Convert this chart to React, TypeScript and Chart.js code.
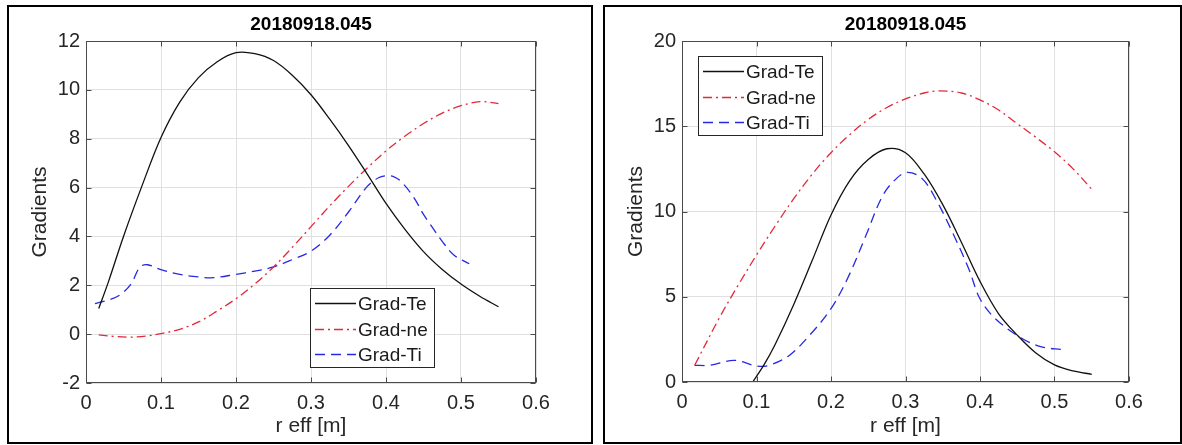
import React, { useEffect, useRef } from 'react';
import { Chart, registerables } from 'chart.js';

Chart.register(...registerables);

// ---------- text ----------
const TITLE = '20180918.045';
const X_LABEL = 'r eff [m]';
const Y_LABEL = 'Gradients';
const SERIES_NAMES = ['Grad-Te', 'Grad-ne', 'Grad-Ti'];

// ---------- left panel data ----------
const L_TE_X = [0.017, 0.03, 0.05, 0.075, 0.1, 0.125, 0.15, 0.175, 0.2, 0.225, 0.25, 0.275, 0.3, 0.325, 0.35, 0.375, 0.4, 0.425, 0.45, 0.475, 0.5, 0.525, 0.55];
const L_TE_Y = [1.05, 2.15, 4.0, 6.1, 8.05, 9.5, 10.5, 11.15, 11.52, 11.48, 11.2, 10.6, 9.8, 8.8, 7.72, 6.55, 5.35, 4.3, 3.38, 2.65, 2.05, 1.55, 1.12];

const L_NE_X = [0.017, 0.04, 0.06, 0.08, 0.1, 0.125, 0.15, 0.175, 0.2, 0.225, 0.25, 0.275, 0.3, 0.325, 0.35, 0.375, 0.4, 0.425, 0.45, 0.475, 0.5, 0.525, 0.55];
const L_NE_Y = [-0.03, -0.1, -0.12, -0.08, 0.02, 0.2, 0.5, 0.95, 1.45, 2.05, 2.75, 3.55, 4.4, 5.25, 6.05, 6.8, 7.5, 8.1, 8.62, 9.05, 9.35, 9.52, 9.44];

const L_TI_X = [0.012, 0.03, 0.045, 0.06, 0.072, 0.082, 0.1, 0.125, 0.15, 0.17, 0.2, 0.225, 0.25, 0.275, 0.3, 0.325, 0.35, 0.375, 0.39, 0.4, 0.41, 0.42, 0.437, 0.45, 0.46, 0.475, 0.49, 0.511];
const L_TI_Y = [1.25, 1.4, 1.6, 2.05, 2.75, 2.84, 2.64, 2.45, 2.34, 2.31, 2.45, 2.58, 2.75, 3.05, 3.4, 4.05, 5.0, 6.05, 6.4, 6.48, 6.45, 6.25, 5.6, 4.9, 4.45, 3.8, 3.25, 2.88];

// ---------- right panel data ----------
const R_TE_X = [0.095, 0.11, 0.125, 0.15, 0.175, 0.2, 0.225, 0.25, 0.275, 0.3, 0.325, 0.35, 0.375, 0.4, 0.425, 0.45, 0.475, 0.5, 0.525, 0.55];
const R_TE_Y = [0, 1.0, 2.2, 4.55, 7.15, 9.8, 11.8, 13.05, 13.68, 13.45, 12.2, 10.4, 8.2, 5.9, 4.0, 2.75, 1.7, 1.0, 0.65, 0.45];

const R_NE_X = [0.017, 0.05, 0.075, 0.1, 0.125, 0.15, 0.175, 0.2, 0.225, 0.25, 0.275, 0.3, 0.325, 0.345, 0.375, 0.4, 0.425, 0.45, 0.475, 0.5, 0.525, 0.55];
const R_NE_Y = [0.98, 3.75, 5.65, 7.45, 9.15, 10.75, 12.2, 13.45, 14.5, 15.4, 16.1, 16.6, 16.95, 17.08, 16.95, 16.55, 15.95, 15.15, 14.35, 13.5, 12.5, 11.3];

const R_TI_X = [0.017, 0.037, 0.07, 0.1, 0.117, 0.144, 0.171, 0.2, 0.224, 0.247, 0.269, 0.287, 0.303, 0.323, 0.341, 0.363, 0.385, 0.4, 0.421, 0.457, 0.484, 0.51];
const R_TI_Y = [0.98, 0.98, 1.27, 0.94, 0.98, 1.56, 2.73, 4.3, 6.24, 8.6, 10.9, 11.9, 12.3, 11.9, 10.7, 8.78, 6.63, 4.88, 3.7, 2.54, 2.05, 1.91];

// ---------- axes ----------
const X_MIN = 0, X_MAX = 0.6, X_STEP = 0.1;
const L_Y_MIN = -2, L_Y_MAX = 12, L_Y_STEP = 2;
const R_Y_MIN = 0, R_Y_MAX = 20, R_Y_STEP = 5;

// ---------- styles ----------
const FONT = '"Liberation Sans", Arial, Helvetica, sans-serif';
const AXIS_COLOR = '#262626';
const STYLES = [
  { color: '#111111', dash: [] as number[] },
  { color: 'rgb(228,40,55)', dash: [9, 4, 2, 4] },
  { color: 'rgb(40,40,228)', dash: [10, 6] },
];

const zip = (xs: number[], ys: number[]) => xs.map((x, i) => ({ x, y: ys[i] }));

const framePlugin = {
  id: 'matlabFrame',
  afterDatasetsDraw(chart: any) {
    const { ctx, chartArea: a, scales } = chart;
    const L = Math.round(a.left) + 0.5;
    const R = Math.round(a.right) - 0.5;
    const T = Math.round(a.top) + 0.5;
    const B = Math.round(a.bottom) - 0.5;
    ctx.save();
    ctx.strokeStyle = '#4a4a4a';
    ctx.lineWidth = 1;
    ctx.setLineDash([]);
    ctx.strokeRect(L, T, R - L, B - T);
    const len = 5;
    ctx.beginPath();
    scales.x.ticks.forEach((t: any) => {
      const px = Math.round(scales.x.getPixelForValue(t.value)) + 0.5;
      ctx.moveTo(px, B); ctx.lineTo(px, B - len);
      ctx.moveTo(px, T); ctx.lineTo(px, T + len);
    });
    scales.y.ticks.forEach((t: any) => {
      const py = Math.round(scales.y.getPixelForValue(t.value)) + 0.5;
      ctx.moveTo(L, py); ctx.lineTo(L + len, py);
      ctx.moveTo(R, py); ctx.lineTo(R - len, py);
    });
    ctx.stroke();
    ctx.restore();
  },
  afterDraw(chart: any, _args: any, opts: any) {
    if (!opts || opts.x === undefined) return;
    const { ctx } = chart;
    const bx = opts.x, by = opts.y, bw = 124, bh = 79;
    ctx.save();
    ctx.fillStyle = '#ffffff';
    ctx.fillRect(bx, by, bw, bh);
    ctx.strokeStyle = '#262626';
    ctx.lineWidth = 1;
    ctx.setLineDash([]);
    ctx.strokeRect(bx + 0.5, by + 0.5, bw, bh);
    chart.data.datasets.forEach((ds: any, i: number) => {
      const cy = Math.round(by + 15 + i * 25.5) + 0.5;
      ctx.strokeStyle = ds.borderColor;
      ctx.lineWidth = ds.borderWidth;
      ctx.setLineDash(ds.borderDash || []);
      ctx.beginPath();
      ctx.moveTo(bx + 5, cy);
      ctx.lineTo(bx + 46, cy);
      ctx.stroke();
      ctx.setLineDash([]);
      ctx.fillStyle = '#1a1a1a';
      ctx.font = `19px ${FONT}`;
      ctx.textBaseline = 'middle';
      ctx.textAlign = 'left';
      ctx.fillText(ds.label, bx + 48, cy + 1);
    });
    ctx.restore();
  },
};

type PanelProps = {
  width: number;
  height: number;
  padRight: number;
  xHeight: number;
  yMin: number;
  yMax: number;
  yStep: number;
  series: { x: number[]; y: number[] }[];
  legend: { x: number; y: number };
};

function Panel(p: PanelProps) {
  const ref = useRef<HTMLCanvasElement | null>(null);
  useEffect(() => {
    if (!ref.current) return;
    const chart = new Chart(ref.current, {
      type: 'line',
      data: {
        datasets: p.series.map((s, i) => ({
          label: SERIES_NAMES[i],
          data: zip(s.x, s.y),
          borderColor: STYLES[i].color,
          borderDash: STYLES[i].dash,
          borderWidth: 1.3,
          pointRadius: 0,
          fill: false,
          tension: 0.35,
        })),
      },
      options: {
        responsive: false,
        animation: false,
        devicePixelRatio: 1,
        layout: { padding: { left: 0, right: p.padRight, top: 0, bottom: 0 } },
        plugins: {
          legend: { display: false },
          tooltip: { enabled: false },
          title: {
            display: true,
            text: TITLE,
            fullSize: false,
            color: '#000000',
            font: { family: FONT, size: 19, weight: 'bold', lineHeight: 1.2 },
            padding: { top: 6, bottom: 5.2 },
          },
          matlabFrame: p.legend,
        } as any,
        scales: {
          x: {
            type: 'linear',
            min: X_MIN,
            max: X_MAX,
            afterFit: (s: any) => { s.height = p.xHeight; },
            ticks: {
              stepSize: X_STEP,
              color: AXIS_COLOR,
              font: { family: FONT, size: 20 },
              padding: 8,
              maxRotation: 0,
              callback: (v: any) => String(Number(Number(v).toFixed(1))),
            },
            grid: { color: '#e0e0e0', lineWidth: 1, drawTicks: false },
            border: { display: false },
            title: {
              display: true,
              text: X_LABEL,
              color: AXIS_COLOR,
              font: { family: FONT, size: 21, lineHeight: 1.2 },
              padding: { top: 0, bottom: 3 },
            },
          },
          y: {
            type: 'linear',
            min: p.yMin,
            max: p.yMax,
            afterFit: (s: any) => { s.width = 77; },
            ticks: {
              stepSize: p.yStep,
              color: AXIS_COLOR,
              font: { family: FONT, size: 20 },
              padding: 6,
            },
            grid: { color: '#e0e0e0', lineWidth: 1, drawTicks: false },
            border: { display: false },
            title: {
              display: true,
              text: Y_LABEL,
              color: AXIS_COLOR,
              font: { family: FONT, size: 21, lineHeight: 1.2 },
              padding: { top: 19, bottom: 0 },
            },
          },
        },
      } as any,
      plugins: [framePlugin as any],
    });
    return () => chart.destroy();
  }, []);
  return <canvas ref={ref} width={p.width} height={p.height} style={{ display: 'block', width: p.width, height: p.height }} />;
}

export default function App() {
  useEffect(() => {
    document.body.style.margin = '0';
  }, []);
  const frame = (left: number, width: number): React.CSSProperties => ({
    position: 'absolute',
    left,
    top: 5,
    width,
    height: 439,
    border: '2px solid #000',
    boxSizing: 'border-box',
    background: '#fff',
  });
  return (
    <div style={{ position: 'fixed', left: 0, top: 0, width: 1182, height: 445, background: '#fff', overflow: 'hidden' }}>
      <div style={frame(7, 586)}>
        <Panel
          width={582}
          height={435}
          padRight={55}
          xHeight={59}
          yMin={L_Y_MIN}
          yMax={L_Y_MAX}
          yStep={L_Y_STEP}
          series={[
            { x: L_TE_X, y: L_TE_Y },
            { x: L_NE_X, y: L_NE_Y },
            { x: L_TI_X, y: L_TI_Y },
          ]}
          legend={{ x: 301, y: 281 }}
        />
      </div>
      <div style={frame(603, 579)}>
        <Panel
          width={575}
          height={435}
          padRight={51}
          xHeight={60}
          yMin={R_Y_MIN}
          yMax={R_Y_MAX}
          yStep={R_Y_STEP}
          series={[
            { x: R_TE_X, y: R_TE_Y },
            { x: R_NE_X, y: R_NE_Y },
            { x: R_TI_X, y: R_TI_Y },
          ]}
          legend={{ x: 93, y: 49 }}
        />
      </div>
    </div>
  );
}
